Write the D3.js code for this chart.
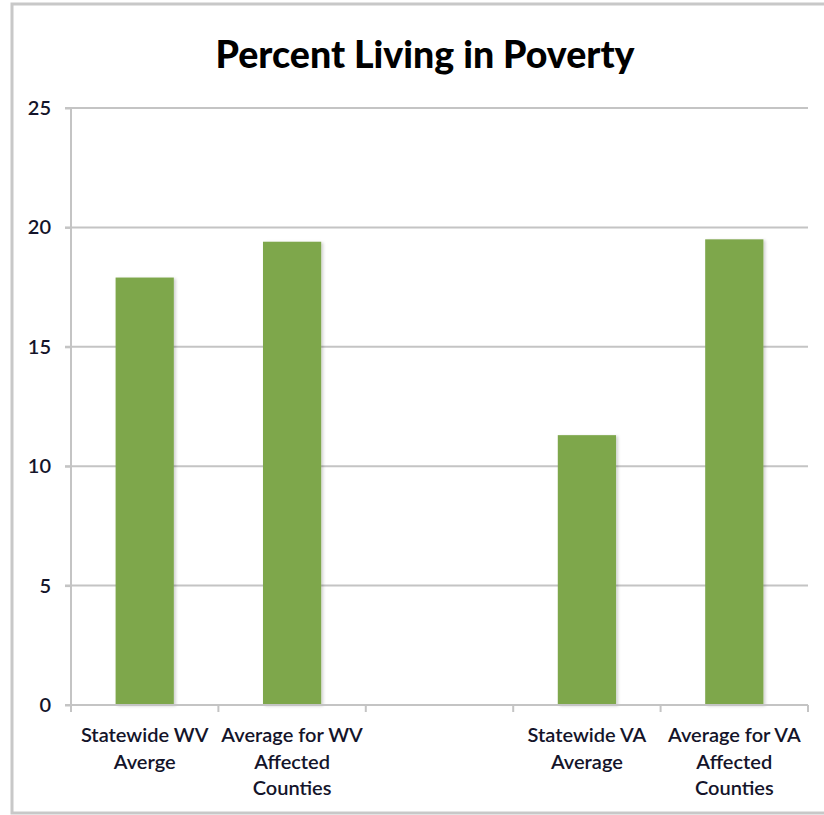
<!DOCTYPE html>
<html>
<head>
<meta charset="utf-8">
<script src="https://cdn.jsdelivr.net/npm/d3@7"></script>
<style>
  html, body { margin: 0; padding: 0; background: #fff; }
  svg { display: block; }
</style>
</head>
<body>
<svg id="chart" width="824" height="815"></svg>
<script>
const title = "Percent Living in Poverty";
const categories = ["Statewide WV|Averge", "Average for WV|Affected|Counties", "", "Statewide VA|Average", "Average for VA|Affected|Counties"];
const values = [17.9, 19.4, null, 11.3, 19.5];
const yTicks = [0, 5, 10, 15, 20, 25];

(function () {
const FONT = "Lato, 'Open Sans', 'DejaVu Sans', sans-serif";
const svg = d3.select("#chart");

const defs = svg.append("defs");
const f = defs.append("filter").attr("id", "shadow").attr("x", "-20%").attr("y", "-5%").attr("width", "140%").attr("height", "110%");
f.append("feDropShadow").attr("dx", 2).attr("dy", 1).attr("stdDeviation", 1.5).attr("flood-color", "#000").attr("flood-opacity", 0.18);

// outer frame
svg.append("rect").attr("x", 12).attr("y", 4).attr("width", 830).attr("height", 809)
  .attr("fill", "#fff").attr("stroke", "#c8c8c8").attr("stroke-width", 3);

const mLeft = 71, mRight = 808, mTop = 108, mBottom = 705;

const x = d3.scaleBand().domain(d3.range(categories.length)).range([mLeft, mRight]).padding(0);
const y = d3.scaleLinear().domain([0, 25]).range([mBottom, mTop]);

svg.append("text").attr("x", 425).attr("y", 68).attr("text-anchor", "middle")
  .attr("font-family", FONT).attr("font-weight", 900).attr("font-size", 37.5).attr("fill", "#000")
  .text(title);

// gridlines
svg.append("g").selectAll("line").data(yTicks.filter(d => d > 0)).join("line")
  .attr("x1", mLeft - 6).attr("x2", mRight).attr("y1", d => y(d)).attr("y2", d => y(d))
  .attr("stroke", "#c4c4c4").attr("stroke-width", 2);

// y axis
const yAxis = d3.axisLeft(y).tickValues(yTicks).tickSize(6).tickPadding(14);
const gy = svg.append("g").attr("transform", `translate(${mLeft},0)`).call(yAxis);
gy.select(".domain").attr("stroke", "#c4c4c4").attr("stroke-width", 2).attr("d", `M0,${mTop}V${mBottom}`);
gy.selectAll(".tick line").attr("stroke", "#c4c4c4").attr("stroke-width", 2);
gy.selectAll(".tick text").attr("font-family", FONT).attr("font-size", 20).attr("font-weight", 600).attr("fill", "#14142a");

// bars
const bw = x.bandwidth() * 0.395;
svg.append("g").selectAll("rect").data(values.map((v, i) => ({v, i})).filter(d => d.v !== null)).join("rect")
  .attr("x", d => x(d.i) + x.bandwidth() / 2 - bw / 2)
  .attr("width", bw)
  .attr("y", d => y(d.v))
  .attr("height", d => y(0) - y(d.v))
  .attr("fill", "#7ea74b")
  .attr("filter", "url(#shadow)");

// x axis
const gx = svg.append("g").attr("transform", `translate(0,${mBottom})`);
gx.append("line").attr("x1", mLeft - 6).attr("x2", mRight).attr("stroke", "#c4c4c4").attr("stroke-width", 2);
gx.selectAll("line.tick").data(d3.range(categories.length + 1)).join("line").attr("class", "tick")
  .attr("x1", d => d < categories.length ? x(d) : mRight).attr("x2", d => d < categories.length ? x(d) : mRight)
  .attr("y1", 0).attr("y2", 7).attr("stroke", "#c4c4c4").attr("stroke-width", 2);

const labels = gx.selectAll("text.cat").data(categories).join("text").attr("class", "cat")
  .attr("text-anchor", "middle").attr("font-family", FONT).attr("font-size", 20).attr("font-weight", 600).attr("fill", "#14142a");
labels.each(function(d, i) {
  const t = d3.select(this);
  d.split("|").filter(s => s).forEach((line, k) => {
    t.append("tspan").attr("x", x(i) + x.bandwidth() / 2).attr("y", 37 + k * 26.5).text(line);
  });
});
})();
</script>
</body>
</html>
